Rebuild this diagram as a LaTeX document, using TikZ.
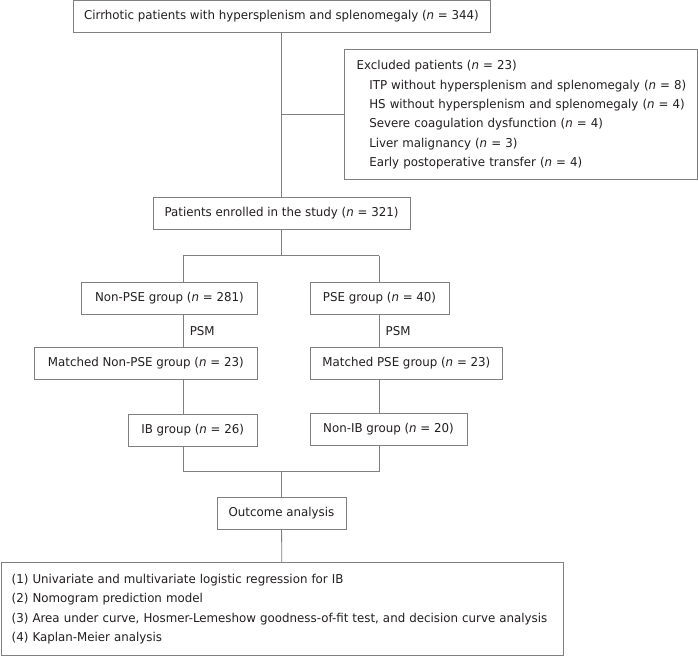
\documentclass[tikz,border=0pt]{standalone}
\usepackage{fontspec}
\setmainfont[FakeStretch=0.97]{DejaVu Sans}
\usetikzlibrary{arrows.meta}
\definecolor{linegray}{HTML}{7F7F7F}
\definecolor{textgray}{HTML}{231F20}
\tikzstyle{base} = [rectangle, draw=linegray, line width=0.8pt, minimum height=32pt, text centered, text=textgray, fill=white, font=\fontsize{12.2}{19.3}\selectfont]
\tikzstyle{listbox} = [base, align=left, inner xsep=12.7pt]
\tikzstyle{link} = [draw=linegray, line width=0.8pt]
\tikzstyle{psm} = [anchor=west, xshift=2.7pt, text=textgray, font=\fontsize{12.2}{14}\selectfont]
\newcommand{\nn}{\textit{n}}

\begin{document}
\begin{tikzpicture}[node distance=66pt]
  \useasboundingbox (-281.5pt,16.5pt) rectangle (416.5pt,-639.5pt);
  \node (cirrhotic) [base, minimum width=417pt] {Cirrhotic patients with hypersplenism and splenomegaly (\nn{} = 344)};
  \node (excluded) [listbox, right of=cirrhotic, xshift=173pt, yshift=-98.2pt, text width=327.6pt, minimum height=130pt]
    {\mbox{Excluded patients (\nn{} = 23)}\\
     \mbox{\hspace*{12.6pt}ITP without hypersplenism and splenomegaly (\nn{} = 8)}\\
     \mbox{\hspace*{12.6pt}HS without hypersplenism and splenomegaly (\nn{} = 4)}\\
     \mbox{\hspace*{12.6pt}Severe coagulation dysfunction (\nn{} = 4)}\\
     \mbox{\hspace*{12.6pt}Liver malignancy (\nn{} = 3)}\\
     \mbox{\hspace*{12.6pt}Early postoperative transfer (\nn{} = 4)}};
  \node (enrolled) [base, below of=cirrhotic, yshift=-131pt, minimum width=257pt] {Patients enrolled in the study (\nn{} = 321)};
  \node (nonpse) [base, below of=enrolled, xshift=-112.1pt, yshift=-18.5pt, minimum width=176pt] {Non-PSE group (\nn{} = 281)};
  \node (pse) [base, below of=enrolled, xshift=98pt, yshift=-18.5pt, minimum width=139pt] {PSE group (\nn{} = 40)};
  \node (mnonpse) [base, below of=nonpse, xshift=-23.6pt, yshift=0.5pt, minimum width=223pt] {Matched Non-PSE group (\nn{} = 23)};
  \node (mpse) [base, below of=pse, xshift=26.9pt, yshift=0.5pt, minimum width=192.7pt] {Matched PSE group (\nn{} = 23)};
  \node (ib) [base, below of=mnonpse, xshift=46.9pt, yshift=-0.5pt, minimum width=129.3pt] {IB group (\nn{} = 26)};
  \node (nonib) [base, below of=mpse, xshift=-17.9pt, minimum width=157pt] {Non-IB group (\nn{} = 20)};
  \node (outcome) [base, below of=ib, xshift=88.8pt, yshift=-17.5pt, minimum width=129pt] {Outcome analysis};
  \node (analysis) [listbox, below of=outcome, xshift=0.5pt, yshift=-29.5pt, inner xsep=10.7pt, text width=540.6pt, minimum height=93pt]
    {\mbox{(1) Univariate and multivariate logistic regression for IB}\\
     \mbox{(2) Nomogram prediction model}\\
     \mbox{(3) Area under curve, Hosmer-Lemeshow goodness-of-fit test, and decision curve analysis}\\
     \mbox{(4) Kaplan-Meier analysis}};

  \coordinate (fork) at (0pt,-239pt);
  \coordinate (lfork) at (-98.1pt,-239pt);
  \coordinate (rfork) at (97.8pt,-239pt);
  \coordinate (join) at (0pt,-455pt);
  \coordinate (ljoin) at (-98.1pt,-455pt);
  \coordinate (rjoin) at (97.8pt,-455pt);

  \draw[link] (cirrhotic) -- (enrolled);
  \draw[link] (cirrhotic |- excluded) -- (excluded);
  \draw[link] (enrolled) -- (fork);
  \draw[link] (lfork) -- (rfork);
  \draw[link] (lfork) -- (lfork |- nonpse.north);
  \draw[link] (rfork) -- (rfork |- pse.north);
  \draw[link] (lfork |- nonpse.south) -- node[psm] {PSM} (lfork |- mnonpse.north);
  \draw[link] (rfork |- pse.south) -- node[psm] {PSM} (rfork |- mpse.north);
  \draw[link] (lfork |- mnonpse.south) -- (lfork |- ib.north);
  \draw[link] (rfork |- mpse.south) -- (rfork |- nonib.north);
  \draw[link] (lfork |- ib.south) -- (ljoin);
  \draw[link] (rfork |- nonib.south) -- (rjoin);
  \draw[link] (ljoin) -- (rjoin);
  \draw[link] (join) -- (outcome);
  \draw[link] (outcome) -- (analysis);
\end{tikzpicture}
\end{document}
